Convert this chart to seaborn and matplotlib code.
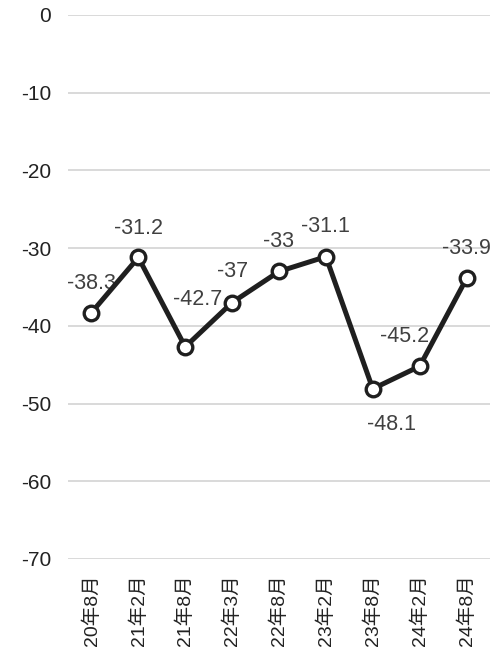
import matplotlib
matplotlib.use("Agg")
import matplotlib.pyplot as plt
import seaborn as sns
import pandas as pd

categories = ["20年8月", "21年2月", "21年8月", "22年3月", "22年8月",
              "23年2月", "23年8月", "24年2月", "24年8月"]
values = [-38.3, -31.2, -42.7, -37, -33, -31.1, -48.1, -45.2, -33.9]
value_labels = ["-38.3", "-31.2", "-42.7", "-37", "-33", "-31.1", "-48.1", "-45.2", "-33.9"]
yticks = [0, -10, -20, -30, -40, -50, -60, -70]

sns.set_theme(style="white")
plt.rcParams['font.family'] = ['Liberation Sans', 'Noto Sans CJK SC', 'DejaVu Sans']

df = pd.DataFrame({"period": categories, "value": values})

fig = plt.figure(figsize=(4.96, 6.51), dpi=100)
ax = fig.add_axes([68/496, 1-559/651, (490-68)/496, (559-15)/651])

sns.lineplot(data=df, x="period", y="value", ax=ax, color="#1f1f1f",
             linewidth=3.6, marker="o", markersize=10.5,
             markerfacecolor="white", markeredgecolor="#1f1f1f",
             markeredgewidth=2.4, sort=False, zorder=3)

ax.set_ylim(-70, 0)
ax.set_xlim(-0.5, len(categories) - 0.5)
ax.set_yticks(yticks)
ax.set_yticklabels([str(t) for t in yticks])
ax.grid(axis="y", color="#d9d9d9", linewidth=1.4)
ax.grid(axis="x", visible=False)
for s in ax.spines.values():
    s.set_visible(False)
ax.set_xlabel("")
ax.set_ylabel("")
ax.tick_params(axis="y", length=0, pad=12, labelsize=15, labelcolor="#222222")
ax.tick_params(axis="x", length=0, pad=11, labelsize=14, labelcolor="#222222",
               labelrotation=90)
for lab in ax.get_xticklabels():
    lab.set_verticalalignment("top")

# label offsets in pixels (dx, dy)
offsets = [(0, 29), (0, 29), (12, 47), (0, 31), (0, 30), (0, 30), (19, -36), (-15, 30), (0, 30)]
for i, (v, t) in enumerate(zip(values, value_labels)):
    dx, dy = offsets[i]
    ax.annotate(t, (i, v), xytext=(dx * 0.72, dy * 0.72), textcoords="offset points",
                ha="center", va="center", fontsize=15.5, color="#404040", zorder=2)

fig.savefig("out.png", dpi=100)
